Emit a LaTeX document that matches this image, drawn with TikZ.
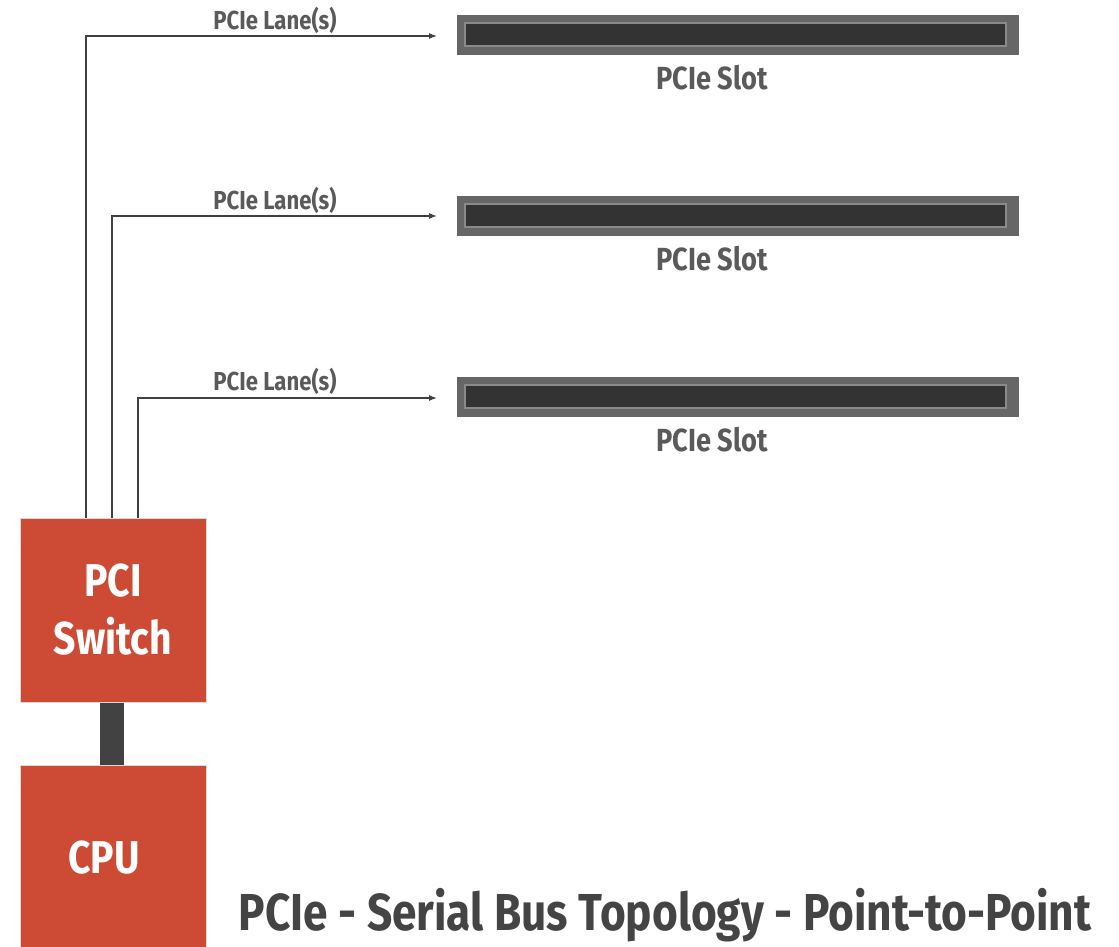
\documentclass[tikz,border=0pt]{standalone}
\usepackage{fontspec}
\setmainfont{Fira Sans}[FakeStretch=0.85]
\usetikzlibrary{arrows.meta}
\definecolor{pcired}{HTML}{CD4B35}
\definecolor{slotouter}{HTML}{666666}
\definecolor{slotinner}{HTML}{333333}
\definecolor{slotline}{HTML}{8A8A8A}
\definecolor{txtgray}{HTML}{5A5A5A}
\definecolor{titlegray}{HTML}{444444}
\definecolor{busgray}{HTML}{424242}
\tikzset{
  x=1pt, y=-1pt,
  chip/.style={fill=pcired, draw=black!15, line width=0.8pt, text=white, font=\bfseries\fontsize{46}{52}\selectfont, align=center},
  slotlabel/.style={text=txtgray, font=\bfseries\fontsize{32}{36}\selectfont},
  lanelabel/.style={text=txtgray, font=\bfseries\fontsize{26}{29}\selectfont},
  lane/.style={draw=black!75, line width=1.1pt, -{Latex[length=8pt,width=6pt]}},
}
\begin{document}
\begin{tikzpicture}
\useasboundingbox (0,0) rectangle (1119,947);
% slots
\foreach \i/\y in {1/15, 2/196, 3/377}{
  \fill[slotouter] (457,\y) rectangle (1019,\y+40);
  \fill[slotinner, draw=slotline, line width=1.2pt] (465,\y+8) rectangle (1006,\y+31);
  \coordinate (slot\i) at (457,\y+21);
  \node[slotlabel] (slotlab\i) at (712,\y+63) {PCIe Slot};
}
% chips
\node[chip, minimum width=186pt, minimum height=184pt, inner sep=0pt] (sw) at (113,610) {PCI\\[6pt]Switch};
\path[fill=pcired, draw=black!15, line width=0.8pt] (20,947.5) -- (20,765) -- (206,765) -- (206,947.5);
\node[text=white, font=\bfseries\fontsize{46}{52}\selectfont] (cpu) at (104,858) {CPU};
\coordinate (cputop) at (112,765);
\fill[busgray] (100,703) rectangle (124,764.5);
% lanes
\coordinate (e1) at (437,36);
\coordinate (e2) at (437,216);
\coordinate (e3) at (437,398);
\draw[lane] (sw.north -| 86,0) -- (86,36) -- (e1);
\draw[lane] (sw.north -| 112,0) -- (112,216) -- (e2);
\draw[lane] (sw.north -| 138,0) -- (138,398) -- (e3);
\node[lanelabel] (l1) at (275,20) {PCIe Lane(s)};
\node[lanelabel] (l2) at (275,200) {PCIe Lane(s)};
\node[lanelabel] (l3) at (275,381) {PCIe Lane(s)};
% title
\node[text=titlegray, font=\bfseries\fontsize{52}{58}\selectfont] (title) at (665,915) {PCIe - Serial Bus Topology - Point-to-Point};
\end{tikzpicture}
\end{document}
